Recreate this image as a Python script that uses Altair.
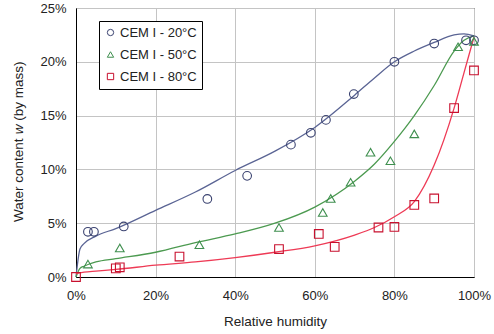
import altair as alt
import pandas as pd

# Measured sorption points (relative humidity %, water content % by mass)
series_names = ["CEM I - 20°C", "CEM I - 50°C", "CEM I - 80°C"]

rh_20 = [3, 4.5, 12, 33, 43, 54, 59, 62.8, 69.8, 80, 90, 98, 100]
w_20 = [4.2, 4.2, 4.7, 7.25, 9.4, 12.3, 13.4, 14.6, 17.0, 20.0, 21.7, 22.0, 22.0]

rh_50 = [3, 11, 31, 51, 62, 64, 69, 74, 79, 85, 96, 100]
w_50 = [1.2, 2.7, 3.0, 4.6, 6.0, 7.3, 8.8, 11.6, 10.8, 13.3, 21.4, 21.9]

rh_80 = [0, 10, 11, 26, 51, 61, 65, 76, 80, 85, 90, 95, 100]
w_80 = [0, 0.8, 0.9, 1.9, 2.6, 4.0, 2.8, 4.6, 4.65, 6.7, 7.3, 15.7, 19.2]

# Fitted isotherm curves
rh_fit = [0, 1, 2, 5, 10, 20, 30, 40, 50, 60, 70, 75, 80, 85, 90, 95, 97.5, 100]
fit_20 = [0, 2.6, 3.1, 3.8, 4.5, 6.2, 7.9, 9.9, 11.7, 13.9, 16.9, 18.5, 20.0, 21.0, 21.8, 22.5, 22.6, 22.4]
fit_50 = [0, 0.8, 1.0, 1.4, 1.7, 2.3, 3.2, 4.0, 5.0, 6.5, 8.9, 10.5, 12.6, 15.0, 17.8, 21.0, 22.0, 22.4]
fit_80 = [0.3, 0.4, 0.45, 0.55, 0.7, 1.1, 1.4, 1.8, 2.3, 2.9, 3.9, 4.6, 5.6, 7.0, 10.4, 15.7, 19.0, 22.3]

point_colors = ["#3a4270", "#3f8f4f", "#c8102e"]
line_colors = ["#5a6494", "#4c9a50", "#ee3a55"]
shapes = ["circle", "triangle-up", "square"]

pts = pd.concat([
    pd.DataFrame({"rh": [v / 100 for v in rh], "w": [v / 100 for v in w], "series": name})
    for name, rh, w in zip(series_names, [rh_20, rh_50, rh_80], [w_20, w_50, w_80])
])
fits = pd.concat([
    pd.DataFrame({"rh": [v / 100 for v in rh_fit], "w": [v / 100 for v in w], "series": name})
    for name, w in zip(series_names, [fit_20, fit_50, fit_80])
])

FONT = "Liberation Sans"

x_enc = alt.X("rh:Q", scale=alt.Scale(domain=[0, 1], nice=False),
              axis=alt.Axis(format=".0%", values=[0, 0.2, 0.4, 0.6, 0.8, 1.0],
                            title="Relative humidity"))
y_enc = alt.Y("w:Q", scale=alt.Scale(domain=[0, 0.25], nice=False),
              axis=alt.Axis(format=".0%", values=[0, 0.05, 0.1, 0.15, 0.2, 0.25], title=None))

lines = alt.Chart(fits).mark_line(strokeWidth=1.3, interpolate="monotone").encode(
    x=x_enc, y=y_enc,
    color=alt.Color("series:N", scale=alt.Scale(domain=series_names, range=line_colors), legend=None),
)

points = alt.Chart(pts).mark_point(filled=False, strokeWidth=1.1, size=75, opacity=1).encode(
    x="rh:Q", y="w:Q",
    stroke=alt.Stroke("series:N", scale=alt.Scale(domain=series_names, range=point_colors),
                      legend=alt.Legend(title=None)),
    shape=alt.Shape("series:N", scale=alt.Scale(domain=series_names, range=shapes),
                    legend=alt.Legend(title=None)),
)

# Y-axis title with an italic symbol, set as rotated text pieces
title_x = -57
title_y0 = 214
fs = 13.5
part1 = "Water content"
part2 = "w"
part3 = "(by mass)"
w1 = 6.503 * fs          # "Water content " including the trailing space
w2 = (0.722 + 0.278) * fs  # italic "w" plus the following space
ytitle = alt.layer(
    alt.Chart(pd.DataFrame({"t": [part1]})).mark_text(
        angle=270, align="left", baseline="middle", font=FONT, fontSize=fs, color="#222222"
    ).encode(text="t:N", x=alt.value(title_x), y=alt.value(title_y0)),
    alt.Chart(pd.DataFrame({"t": [part2]})).mark_text(
        angle=270, align="left", baseline="middle", font=FONT, fontSize=fs, fontStyle="italic", color="#222222"
    ).encode(text="t:N", x=alt.value(title_x), y=alt.value(title_y0 - w1)),
    alt.Chart(pd.DataFrame({"t": [part3]})).mark_text(
        angle=270, align="left", baseline="middle", font=FONT, fontSize=fs, color="#222222"
    ).encode(text="t:N", x=alt.value(title_x), y=alt.value(title_y0 - w1 - w2)),
)

chart = alt.layer(lines, points, ytitle).resolve_scale(color="independent").properties(
    width=398, height=269,
    autosize=alt.AutoSizeParams(type="none"),
    padding={"left": 76, "top": 8, "right": 20, "bottom": 57},
).configure_view(
    stroke="#000000", strokeWidth=1
).configure_axis(
    labelFont=FONT, labelFontSize=13, labelColor="#222222", labelFlush=False,
    titleFont=FONT, titleFontSize=13.5, titleFontWeight="normal", titleColor="#222222",
    grid=True, gridColor="#c4c4c4", gridWidth=1,
    domain=True, domainColor="#000000",
    ticks=False, tickSize=0, labelPadding=10,
).configure_axisX(
    labelPadding=12, titlePadding=12,
).configure_legend(
    orient="none", legendX=23, legendY=13,
    strokeColor="#000000", fillColor="#ffffff", padding=5,
    labelFont=FONT, labelFontSize=13, labelColor="#222222",
    symbolSize=40, symbolStrokeWidth=1, rowPadding=8, labelOffset=3,
)

chart.save("out.html", embed_options={"renderer": "svg", "actions": False})
